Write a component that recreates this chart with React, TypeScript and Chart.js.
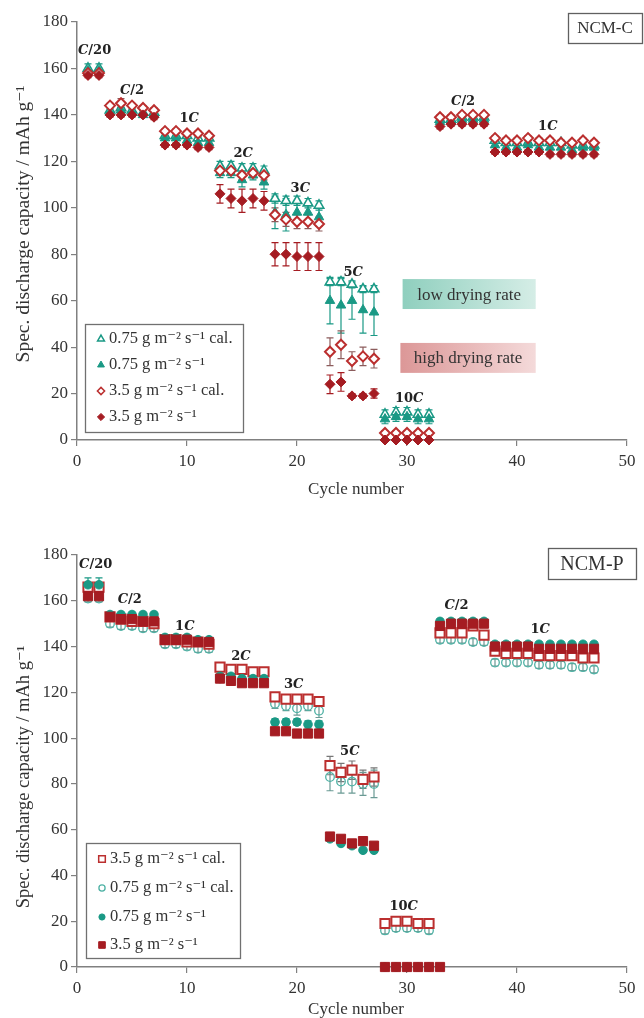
import React, { useEffect, useRef } from 'react';
import { Chart, registerables } from 'chart.js';
import { drawPoint } from 'chart.js/helpers';

Chart.register(...registerables);

// ---------------- DATA ----------------
const cycles = [1, 2, 3, 4, 5, 6, 7, 8, 9, 10, 11, 12, 13, 14, 15, 16, 17, 18, 19, 20, 21, 22, 23, 24, 25, 26, 27, 28, 29, 30, 31, 32, 33, 34, 35, 36, 37, 38, 39, 40, 41, 42, 43, 44, 45, 46, 47];
const xTicks = [0, 10, 20, 30, 40, 50];
const yTicks = [0, 20, 40, 60, 80, 100, 120, 140, 160, 180];

// NCM-C (top)
const ncmC_075cal = [160, 160, 142, 143, 142, 141, 141, 131, 131, 131, 130, 130, 118, 118, 117, 117, 116, 104, 103, 103, 102, 101, 68, 68, 67, 65, 65, 11, 12, 12, 11, 11, 138, 138, 139, 139, 139, 129, 128, 128, 128, 128, 128, 128, 127, 127, 127];
const ncmC_075cal_err = [2, 2, 1, 1, 1, 1, 1, 1, 1, 1, 1, 1, 2, 2, 2, 2, 2, 2, 2, 2, 2, 2, 1.5, 1.5, 1.5, 1.5, 1.5, 2, 2, 2, 2, 2, 1, 1, 1, 1, 1, 1, 1, 1, 1, 1, 1, 1, 1, 1, 1];
const ncmC_075 = [159, 159, 141, 142, 141, 140, 140, 130, 130, 129, 128, 128, 115, 115, 112, 114, 111, 98, 97, 98, 98, 96, 60, 58, 60, 56, 55, 9, 10, 10, 9, 9, 137, 137, 138, 138, 138, 127, 126, 126, 127, 126, 126, 126, 125, 126, 126];
const ncmC_075_err = [1, 1, 1, 1, 1, 1, 1, 1, 1, 1, 1, 1, 2, 2, 3, 2, 3, 7, 7, 4, 4, 4, 10, 12, 8, 10, 10, 2, 2, 2, 2, 2, 1, 1, 1, 1, 1, 1, 1, 1, 1, 1, 1, 1, 1, 1, 1];
const ncmC_35cal = [158, 158, 144, 145, 144, 143, 142, 133, 133, 132, 132, 131, 116, 116, 114, 115, 114, 97, 95, 94, 94, 93, 38, 41, 34, 36, 35, 3, 3, 3, 3, 3, 139, 139, 140, 140, 140, 130, 129, 129, 130, 129, 129, 128, 128, 129, 128];
const ncmC_35cal_err = [1, 1, 1, 2, 1, 1, 1, 1, 1, 1, 1, 1, 2, 2, 2, 2, 2, 3, 3, 3, 3, 3, 6, 6, 4, 4, 4, 1, 1, 1, 1, 1, 1, 1, 1, 1, 1, 1, 1, 1, 1, 1, 1, 1, 1, 1, 1];
const ncmC_35 = [157, 157, 140, 140, 140, 140, 139, 127, 127, 127, 126, 126, 106, 104, 103, 104, 103, 80, 80, 79, 79, 79, 24, 25, 19, 19, 20, 0, 0, 0, 0, 0, 135, 136, 136, 136, 136, 124, 124, 124, 124, 124, 123, 123, 123, 123, 123];
const ncmC_35_err = [1, 1, 1, 1, 1, 1, 1, 1, 1, 1, 1, 1, 4, 4, 5, 4, 4, 5, 5, 6, 6, 6, 4, 4, 1, 1, 2, 0, 0, 0, 0, 0, 1, 1, 1, 1, 1, 1, 1, 1, 1, 1, 1, 1, 1, 1, 1];

// NCM-P (bottom)
const ncmP_35cal = [166, 166, 153, 152, 151, 151, 150, 143, 143, 142, 142, 141, 131, 130, 130, 129, 129, 118, 117, 117, 117, 116, 88, 85, 86, 82, 83, 19, 20, 20, 19, 19, 146, 146, 146, 149, 145, 138, 137, 137, 137, 136, 136, 136, 136, 135, 135];
const ncmP_35cal_err = [1, 1, 1, 1, 1, 1, 1, 1, 1, 1, 1, 1, 1, 1, 1, 1, 1, 1, 1, 1, 1, 1, 4, 4, 4, 4, 4, 1, 1, 1, 1, 1, 1, 1, 1, 1, 1, 1, 1, 1, 1, 1, 1, 1, 1, 1, 1];
const ncmP_075cal = [161, 161, 150, 149, 149, 148, 148, 141, 141, 140, 139, 139, 126, 125, 125, 125, 125, 115, 114, 113, 114, 112, 83, 81, 81, 80, 80, 16, 17, 17, 17, 16, 143, 143, 143, 142, 142, 133, 133, 133, 133, 132, 132, 132, 131, 131, 130];
const ncmP_075cal_err = [1.5, 1.5, 1.5, 1.5, 1.5, 1.5, 1.5, 1.5, 1.5, 1.5, 1.5, 1.5, 1.5, 1.5, 1.5, 1.5, 1.5, 2, 2, 3, 2, 3, 6, 5, 5, 5, 6, 1.5, 1.5, 1.5, 1.5, 1.5, 1.5, 1.5, 1.5, 1.5, 1.5, 1.5, 1.5, 1.5, 1.5, 1.5, 1.5, 1.5, 1.5, 1.5, 1.5];
const ncmP_075 = [167, 167, 154, 154, 154, 154, 154, 144, 144, 144, 143, 143, 127, 127, 126, 126, 126, 107, 107, 107, 106, 106, 56, 54, 53, 51, 51, 0, 0, 0, 0, 0, 151, 151, 151, 151, 151, 141, 141, 141, 141, 141, 141, 141, 141, 141, 141];
const ncmP_075_err = [3, 3, 1, 1, 1, 1, 1, 1, 1, 1, 1, 1, 1, 1, 1, 1, 1, 1.5, 1.5, 1.5, 1.5, 1.5, 1, 1, 1, 1, 1, 0, 0, 0, 0, 0, 1, 1, 1, 1, 1, 1, 1, 1, 1, 1, 1, 1, 1, 1, 1];
const ncmP_35 = [162, 162, 153, 152, 152, 151, 151, 143, 143, 143, 142, 142, 126, 125, 124, 124, 124, 103, 103, 102, 102, 102, 57, 56, 54, 55, 53, 0, 0, 0, 0, 0, 149, 150, 150, 150, 150, 140, 140, 140, 140, 139, 139, 139, 139, 139, 139];
const ncmP_35_err = [1, 1, 1, 1, 1, 1, 1, 1, 1, 1, 1, 1, 1, 1, 1, 1, 1, 1, 1, 1, 1, 1, 1, 1, 1, 1, 1, 0, 0, 0, 0, 0, 1, 1, 1, 1, 1, 1, 1, 1, 1, 1, 1, 1, 1, 1, 1];
const ncmP_35_extraCycles = [33];
const ncmP_35_extraValues = [0];

// Series labels
const lbl075cal = '0.75 g m⁻² s⁻¹ cal.';
const lbl075 = '0.75 g m⁻² s⁻¹';
const lbl35cal = '3.5 g m⁻² s⁻¹ cal.';
const lbl35 = '3.5 g m⁻² s⁻¹';

// C-rate annotations (text, cycle, capacity)
const rateTextsC = ['C/20', 'C/2', '1C', '2C', '3C', '5C', '10C', 'C/2', '1C'];
const rateXC = [1.6, 5.0, 10.2, 15.1, 20.3, 25.1, 30.2, 35.1, 42.8];
const rateYC = [167.5, 150.3, 138.2, 123.4, 108.3, 72.1, 17.7, 145.6, 134.8];
const rateTextsP = ['C/20', 'C/2', '1C', '2C', '3C', '5C', '10C', 'C/2', '1C'];
const rateXP = [1.7, 4.8, 9.8, 14.9, 19.7, 24.8, 29.7, 34.5, 42.1];
const rateYP = [175.6, 160.3, 148.9, 135.8, 123.5, 94.2, 26.3, 158.1, 147.2];

// ---------------- STYLE ----------------
const TEAL = '#1a9985';
const TEAL_LIGHT = '#4fb2a5';
const RED = '#a51c22';
const RED_OPEN = '#bb2f2f';
const AXIS = '#808080';
const TXT = '#333333';
const SERIF = "'Liberation Serif', 'Times New Roman', 'DejaVu Serif', serif";

type SeriesDef = {
  label: string; values: number[]; errors: number[]; style: string; radius: number;
  fill: string; stroke: string; bw: number; errColor: string; order: number;
  extraX?: number[]; extraY?: number[];
};

type PanelDef = {
  top: number; height: number; area: { left: number; right: number; top: number; bottom: number };
  series: SeriesDef[]; legendOrder: number[];
  legendBox: [number, number, number, number]; legendYs: number[];
  rateTexts: string[]; rateX: number[]; rateY: number[];
  tag: string; tagBox: [number, number, number, number]; tagSize: number;
  yTitleSize: number; yTitleX: number; yTitleY: number; xTitleY: number;
  dryBoxes?: { text: string; x1: number; x2: number; y1: number; y2: number; c1: string; c2: string }[];
};

function makeDataset(s: SeriesDef) {
  const pts = s.values.map((v, i) => ({ x: cycles[i], y: v }));
  const errs = [...s.errors];
  if (s.extraX && s.extraY) {
    s.extraX.forEach((x, k) => { pts.push({ x, y: s.extraY![k] }); errs.push(0); });
  }
  return {
    label: s.label, data: pts, errors: errs, errColor: s.errColor,
    pointStyle: s.style, pointRadius: s.radius, pointHoverRadius: s.radius,
    pointBackgroundColor: s.fill, pointBorderColor: s.stroke, pointBorderWidth: s.bw,
    showLine: false, order: s.order, clip: false,
  };
}

function drawRateText(ctx: CanvasRenderingContext2D, text: string, cx: number, cy: number) {
  const size = 13;
  const fam = "'DejaVu Serif', serif";
  const segs = text.split('').map((ch) => ({ ch, font: ch === 'C' ? `italic bold ${size}px ${fam}` : `bold ${size}px ${fam}` }));
  let total = 0;
  const widths = segs.map((s) => { ctx.font = s.font; const w = ctx.measureText(s.ch).width; total += w; return w; });
  let x = cx - total / 2;
  ctx.fillStyle = '#222';
  ctx.textBaseline = 'middle';
  ctx.textAlign = 'left';
  segs.forEach((s, i) => { ctx.font = s.font; ctx.fillText(s.ch, x, cy); x += widths[i]; });
}

function buildConfig(p: PanelDef): any {
  const errPlugin = {
    id: 'errbars',
    beforeDatasetsDraw(chart: any) {
      const ctx = chart.ctx as CanvasRenderingContext2D;
      const ys = chart.scales.y;
      ctx.save();
      chart.data.datasets.forEach((ds: any, i: number) => {
        const meta = chart.getDatasetMeta(i);
        ctx.strokeStyle = ds.errColor;
        ctx.lineWidth = 1.2;
        meta.data.forEach((el: any, j: number) => {
          const e = ds.errors[j];
          if (!e) return;
          const v = ds.data[j].y;
          const y1 = ys.getPixelForValue(v + e);
          const y2 = ys.getPixelForValue(Math.max(0, v - e));
          ctx.beginPath();
          ctx.moveTo(el.x, y1); ctx.lineTo(el.x, y2);
          ctx.moveTo(el.x - 3.5, y1); ctx.lineTo(el.x + 3.5, y1);
          ctx.moveTo(el.x - 3.5, y2); ctx.lineTo(el.x + 3.5, y2);
          ctx.stroke();
        });
      });
      ctx.restore();
    },
  };

  const decoPlugin = {
    id: 'deco',
    beforeDatasetsDraw(chart: any) {
      const ctx = chart.ctx as CanvasRenderingContext2D;
      const xs = chart.scales.x; const ys = chart.scales.y;
      ctx.save();
      (p.dryBoxes || []).forEach((b) => {
        const x1 = xs.getPixelForValue(b.x1); const x2 = xs.getPixelForValue(b.x2);
        const y1 = ys.getPixelForValue(b.y1); const y2 = ys.getPixelForValue(b.y2);
        const g = ctx.createLinearGradient(x1, 0, x2, 0);
        g.addColorStop(0, b.c1); g.addColorStop(1, b.c2);
        ctx.fillStyle = g;
        ctx.fillRect(x1, y1, x2 - x1, y2 - y1);
        ctx.fillStyle = '#333';
        ctx.font = `17px ${SERIF}`;
        ctx.textAlign = 'center'; ctx.textBaseline = 'middle';
        ctx.fillText(b.text, (x1 + x2) / 2, (y1 + y2) / 2 + 1);
      });
      ctx.restore();
    },
    afterDraw(chart: any) {
      const ctx = chart.ctx as CanvasRenderingContext2D;
      const xs = chart.scales.x; const ys = chart.scales.y;
      const a = chart.chartArea;
      ctx.save();
      // rate labels
      p.rateTexts.forEach((t, i) => drawRateText(ctx, t, xs.getPixelForValue(p.rateX[i]), ys.getPixelForValue(p.rateY[i])));
      // legend
      const [lx1, ly1, lx2, ly2] = p.legendBox;
      ctx.fillStyle = '#fff';
      ctx.fillRect(lx1, ly1, lx2 - lx1, ly2 - ly1);
      ctx.strokeStyle = '#707070'; ctx.lineWidth = 1.3;
      ctx.strokeRect(lx1 + 0.5, ly1 + 0.5, lx2 - lx1, ly2 - ly1);
      p.legendOrder.forEach((si, k) => {
        const s = p.series[si];
        const y = p.legendYs[k];
        const bw = Math.min(s.bw, 1.5);
        ctx.fillStyle = s.fill;
        ctx.strokeStyle = s.stroke;
        ctx.lineWidth = bw;
        drawPoint(ctx, { pointStyle: s.style as any, rotation: 0, borderWidth: bw, radius: s.radius * 0.72 } as any, lx1 + 16, y);
        ctx.fillStyle = TXT;
        ctx.font = `16.5px ${SERIF}`;
        ctx.textAlign = 'left'; ctx.textBaseline = 'middle';
        ctx.fillText(s.label, lx1 + 24, y);
      });
      // tag box
      const [tx1, ty1, tx2, ty2] = p.tagBox;
      ctx.fillStyle = '#fff';
      ctx.fillRect(tx1, ty1, tx2 - tx1, ty2 - ty1);
      ctx.strokeStyle = '#606060'; ctx.lineWidth = 1.3;
      ctx.strokeRect(tx1 + 0.5, ty1 + 0.5, tx2 - tx1, ty2 - ty1);
      ctx.fillStyle = TXT; ctx.font = `${p.tagSize}px ${SERIF}`;
      ctx.textAlign = 'center'; ctx.textBaseline = 'middle';
      ctx.fillText(p.tag, (tx1 + tx2) / 2, (ty1 + ty2) / 2 + 1);
      // axis titles
      ctx.save();
      ctx.translate(p.yTitleX, p.yTitleY);
      ctx.rotate(-Math.PI / 2);
      ctx.font = `${p.yTitleSize}px ${SERIF}`;
      ctx.fillStyle = TXT; ctx.textAlign = 'center'; ctx.textBaseline = 'middle';
      ctx.fillText('Spec. discharge capacity / mAh g⁻¹', 0, 0);
      ctx.restore();
      ctx.font = `17px ${SERIF}`;
      ctx.fillStyle = TXT; ctx.textAlign = 'center'; ctx.textBaseline = 'middle';
      ctx.fillText('Cycle number', (a.left + a.right) / 2 + 4, p.xTitleY);
      ctx.restore();
    },
  };

  const tickFont = { family: SERIF, size: 17 };
  return {
    type: 'scatter',
    data: { datasets: p.series.map(makeDataset) },
    options: {
      animation: false,
      responsive: false,
      events: [],
      layout: { padding: { left: 0, right: 644 - p.area.right, top: p.area.top, bottom: 0 } },
      plugins: { legend: { display: false }, tooltip: { enabled: false } },
      scales: {
        x: {
          type: 'linear', min: 0, max: 50,
          afterBuildTicks: (s: any) => { s.ticks = xTicks.map((v) => ({ value: v })); },
          afterFit: (s: any) => { s.height = p.height - p.area.bottom; },
          ticks: { color: TXT, font: tickFont, padding: 5, maxRotation: 0 },
          grid: { drawOnChartArea: false, drawTicks: true, tickLength: 6, color: AXIS, lineWidth: 1.2 },
          border: { display: true, color: AXIS, width: 1.5 },
        },
        y: {
          type: 'linear', min: 0, max: 180,
          afterBuildTicks: (s: any) => { s.ticks = yTicks.map((v) => ({ value: v })); },
          afterFit: (s: any) => { s.width = p.area.left; },
          ticks: { color: TXT, font: tickFont, padding: 3 },
          grid: { drawOnChartArea: false, drawTicks: true, tickLength: 6, color: AXIS, lineWidth: 1.2 },
          border: { display: true, color: AXIS, width: 1.5 },
        },
      },
    },
    plugins: [errPlugin, decoPlugin],
  };
}

const topPanel: PanelDef = {
  top: 0, height: 505,
  area: { left: 77, right: 627, top: 22, bottom: 440 },
  series: [
    { label: lbl075cal, values: ncmC_075cal, errors: ncmC_075cal_err, style: 'triangle', radius: 5.5, fill: '#ffffff', stroke: TEAL, bw: 1.6, errColor: TEAL, order: 3 },
    { label: lbl075, values: ncmC_075, errors: ncmC_075_err, style: 'triangle', radius: 5.5, fill: TEAL, stroke: TEAL, bw: 1, errColor: TEAL, order: 2 },
    { label: lbl35cal, values: ncmC_35cal, errors: ncmC_35cal_err, style: 'rectRot', radius: 5, fill: '#ffffff', stroke: RED_OPEN, bw: 2, errColor: '#8c5c5c', order: 1 },
    { label: lbl35, values: ncmC_35, errors: ncmC_35_err, style: 'rectRot', radius: 5, fill: RED, stroke: RED, bw: 1, errColor: RED, order: 0 },
  ],
  legendOrder: [0, 1, 2, 3],
  legendBox: [85, 324, 243, 432],
  legendYs: [339, 365, 391, 417],
  rateTexts: rateTextsC, rateX: rateXC, rateY: rateYC,
  tag: 'NCM-C', tagBox: [568, 13, 642, 43], tagSize: 17,
  yTitleSize: 19.5, yTitleX: 24, yTitleY: 224, xTitleY: 490,
  dryBoxes: [
    { text: 'low drying rate', x1: 29.6, x2: 41.7, y1: 69.3, y2: 56.4, c1: '#8fcfbe', c2: '#d5ede6' },
    { text: 'high drying rate', x1: 29.4, x2: 41.7, y1: 41.8, y2: 28.9, c1: '#dc9797', c2: '#f4dada' },
  ],
};

const bottomPanel: PanelDef = {
  top: 505, height: 513,
  area: { left: 77, right: 627, top: 50, bottom: 462 },
  series: [
    { label: lbl35cal, values: ncmP_35cal, errors: ncmP_35cal_err, style: 'rect', radius: 6.5, fill: '#ffffff', stroke: RED_OPEN, bw: 2, errColor: '#777777', order: 2 },
    { label: lbl075cal, values: ncmP_075cal, errors: ncmP_075cal_err, style: 'circle', radius: 4.3, fill: 'rgba(0,0,0,0)', stroke: TEAL_LIGHT, bw: 1.3, errColor: '#6a9a94', order: 3 },
    { label: lbl075, values: ncmP_075, errors: ncmP_075_err, style: 'circle', radius: 4.3, fill: TEAL, stroke: TEAL, bw: 1, errColor: TEAL, order: 1 },
    { label: lbl35, values: ncmP_35, errors: ncmP_35_err, style: 'rect', radius: 6.5, fill: RED, stroke: RED, bw: 1, errColor: RED, order: 0, extraX: ncmP_35_extraCycles, extraY: ncmP_35_extraValues },
  ],
  legendOrder: [0, 1, 2, 3],
  legendBox: [86, 338, 240, 453],
  legendYs: [354, 383, 412, 440],
  rateTexts: rateTextsP, rateX: rateXP, rateY: rateYP,
  tag: 'NCM-P', tagBox: [548, 43, 636, 74], tagSize: 20,
  yTitleSize: 18.5, yTitleX: 24, yTitleY: 272, xTitleY: 505,
};

function Panel({ def }: { def: PanelDef }) {
  const ref = useRef<HTMLCanvasElement>(null);
  useEffect(() => {
    const chart = new Chart(ref.current!, buildConfig(def));
    return () => chart.destroy();
  }, []);
  return (
    <canvas
      ref={ref}
      width={644}
      height={def.height}
      style={{ position: 'absolute', left: 0, top: def.top, width: 644, height: def.height, display: 'block' }}
    />
  );
}

export default function App() {
  return (
    <div style={{ position: 'absolute', left: 0, top: 0, width: 644, height: 1018, background: '#fff', overflow: 'hidden' }}>
      <Panel def={topPanel} />
      <Panel def={bottomPanel} />
    </div>
  );
}
